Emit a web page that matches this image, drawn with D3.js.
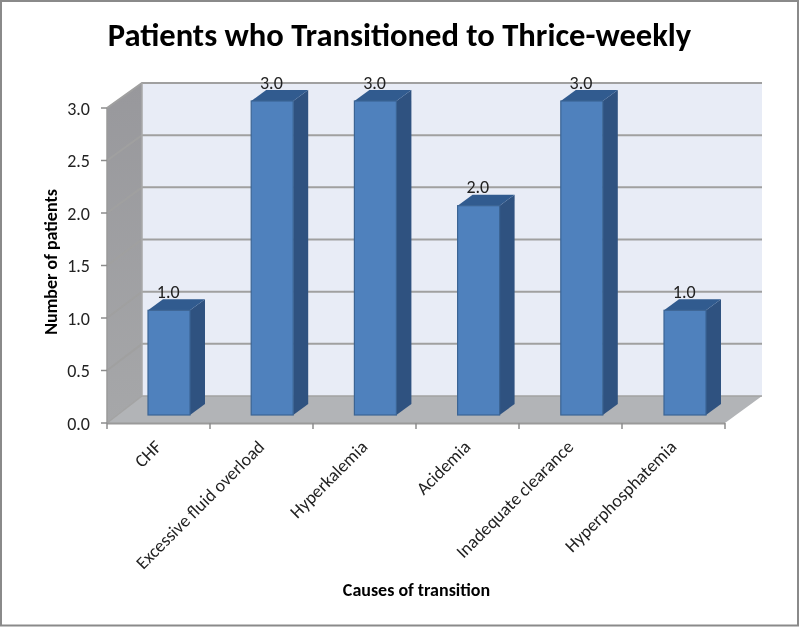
<!DOCTYPE html>
<html><head><meta charset="utf-8">
<script src="https://cdn.jsdelivr.net/npm/d3@7"></script>
<style>html,body{margin:0;padding:0;background:#fff}svg{display:block;filter:blur(0.35px)}</style></head>
<body><svg id="c" width="800" height="627"></svg>
<script>
const categories=["CHF","Excessive fluid overload","Hyperkalemia","Acidemia","Inadequate clearance","Hyperphosphatemia"];
const patients=[1,3,3,2,3,1];
const tickValues=[0,0.5,1,1.5,2,2.5,3];
const titleText="Patients who Transitioned to Thrice-weekly";
const yTitle="Number of patients";
const xTitle="Causes of transition";
const font="Carlito, 'Open Sans', 'Noto Sans', sans-serif";
const svg=d3.select("#c");
svg.append("rect").attr("x",1).attr("y",1).attr("width",797).attr("height",624.5).attr("fill","#fff").attr("stroke","#8a8a8a").attr("stroke-width",2);
const yFront=d3.scaleLinear().domain([0,3]).range([423,108]);
const yBack=d3.scaleLinear().domain([0,3]).range([396,83]);
const yBar=d3.scaleLinear().domain([0,3]).range([415,101]);
const xFront=d3.scaleBand().domain(categories).range([107,725]);
const xBar=d3.scaleBand().domain(categories).range([117.4,736.6]);
const barW=42,dx=15,dy=11;
const barX=d=>xBar(d)+xBar.bandwidth()/2-barW/2;
const pts=p=>p.map(a=>a.join(",")).join(" ");
svg.append("polygon").attr("points",pts([[142,83],[762,83],[762,396],[142,396]])).attr("fill","#e8ecf6");
const sg=svg.append("defs").append("linearGradient").attr("id","side").attr("x1",0).attr("y1",0).attr("x2",0).attr("y2",1);
sg.append("stop").attr("offset",0).attr("stop-color","#98989c");
sg.append("stop").attr("offset",1).attr("stop-color","#a6a7a9");
svg.append("polygon").attr("points",pts([[107,108],[142,83],[142,396],[107,423]])).attr("fill","url(#side)");
svg.append("polygon").attr("points",pts([[107,423],[725,423],[762,396],[142,396]])).attr("fill","#b2b4b7");
tickValues.forEach(t=>{
  svg.append("polyline").attr("points",pts([[107,yFront(t)],[142,yBack(t)],[762,yBack(t)]])).attr("fill","none").attr("stroke",t===0?"#a3a3a3":"#a0a0a0").attr("stroke-width",t===0?1.5:2);
});
svg.append("line").attr("x1",142).attr("x2",142).attr("y1",83).attr("y2",396).attr("stroke","#a8a8a8").attr("stroke-width",1.5);
svg.append("line").attr("x1",107).attr("x2",107).attr("y1",108).attr("y2",423).attr("stroke","#9a9a9a").attr("stroke-width",1.5);
svg.append("line").attr("x1",107).attr("x2",725).attr("y1",423.5).attr("y2",423.5).attr("stroke","#9a9a9a").attr("stroke-width",2);
tickValues.forEach(t=>svg.append("line").attr("x1",101).attr("x2",107).attr("y1",yFront(t)).attr("y2",yFront(t)).attr("stroke","#8c8c8c").attr("stroke-width",1.5));
const xt=d3.range(categories.length+1).map(i=>107+i*xFront.bandwidth());
xt.forEach(x=>svg.append("line").attr("x1",x).attr("x2",x).attr("y1",423).attr("y2",429).attr("stroke","#8c8c8c").attr("stroke-width",1.5));
svg.selectAll(".yl").data(tickValues).join("text").attr("x",90).attr("y",d=>yFront(d)+6.5).attr("text-anchor","end").attr("font-family",font).attr("font-size",18).attr("fill","#222").text(d=>d.toFixed(1));
categories.forEach((c,i)=>{
  const x=barX(c),y0=yBar(0),y1=yBar(patients[i]);
  svg.append("polygon").attr("points",pts([[x+barW,y1],[x+barW+dx,y1-dy],[x+barW+dx,y0-dy],[x+barW,y0]])).attr("fill","#2f5280");
  svg.append("polygon").attr("points",pts([[x,y1],[x+dx,y1-dy],[x+barW+dx,y1-dy],[x+barW,y1]])).attr("fill","#315b8f");
  svg.append("rect").attr("x",x).attr("y",y1).attr("width",barW).attr("height",y0-y1).attr("fill","#4f81bd").attr("stroke","#3b6494").attr("stroke-width",1.2);
  svg.append("text").attr("x",x+barW/2-0.8).attr("y",y1-12.5).attr("text-anchor","middle").attr("font-family",font).attr("font-size",18).attr("fill","#222").text(patients[i].toFixed(1));
  svg.append("text").attr("transform",`translate(${xFront(c)+xFront.bandwidth()/2+4},448) rotate(-45)`).attr("text-anchor","end").attr("font-family",font).attr("font-size",18).attr("fill","#222").text(c);
});
svg.append("text").attr("x",399.5).attr("y",46).attr("text-anchor","middle").attr("font-family",font).attr("font-weight",700).attr("font-size",32.6).attr("fill","#000").text(titleText);
svg.append("text").attr("x",416.5).attr("y",596).attr("text-anchor","middle").attr("font-family",font).attr("font-weight",700).attr("font-size",18).attr("fill","#000").text(xTitle);
svg.append("text").attr("transform","translate(56.5,262) rotate(-90)").attr("text-anchor","middle").attr("font-family",font).attr("font-weight",700).attr("font-size",18).attr("fill","#000").text(yTitle);
</script></body></html>
